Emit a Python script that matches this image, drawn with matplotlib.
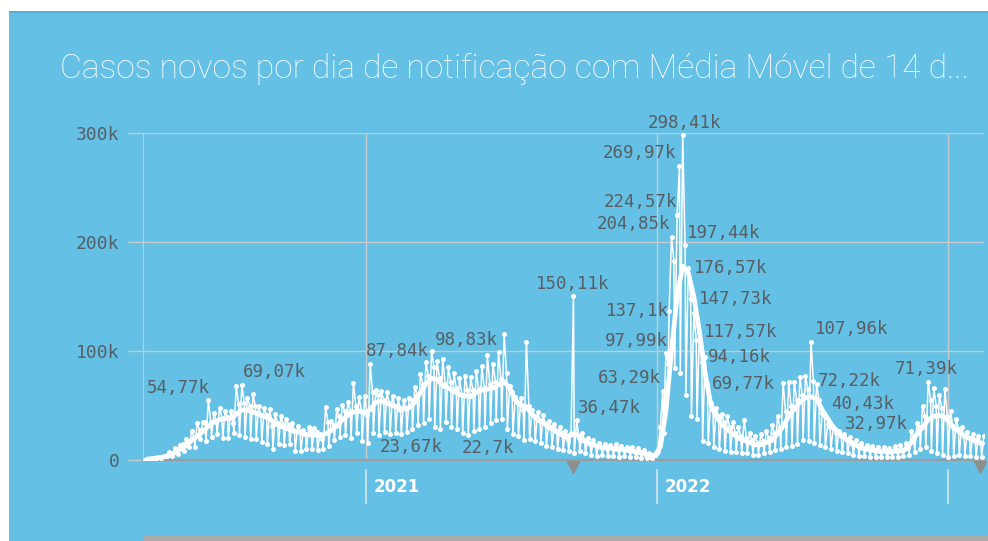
import matplotlib
matplotlib.use("Agg")
import matplotlib.pyplot as plt
import matplotlib.dates as mdates
from matplotlib.patches import Rectangle
import numpy as np
import pandas as pd

# semanas (domingo a sabado) a partir de 29/03/2020, valores em milhares de casos
inicio = '2020-03-29'
# domingo (vale), quarta (pico) e sabado de cada semana
dom = [0.4, 0.9, 1.2, 1.9, 4.0, 4.1, 5.6, 7.9, 11.7, 12.2,
       18.9, 17.1, 21.4, 24.1, 20.2, 20.3, 24.6, 23.0, 21.0, 19.0,
       19.4, 16.2, 14.3, 10.3, 14.8, 13.4, 14.3, 8.4, 8.4, 10.2,
       10.1, 8.9, 10.5, 13.3, 18.6, 21.1, 23.3, 20.0, 25.0, 17.0,
       15.8, 25.0, 23.0, 26.0, 24.0, 25.0, 23.67, 26.0, 28.0, 32.0,
       34.0, 38.0, 30.0, 28.0, 35.0, 30.0, 28.0, 25.0, 22.7, 27.0,
       28.0, 30.0, 34.0, 37.0, 38.0, 28.0, 24.0, 22.0, 18.0, 19.0,
       17.0, 16.0, 13.0, 12.0, 10.0, 9.0, 8.0, 6.0, 8.0, 6.0,
       5.0, 4.0, 5.0, 4.0, 4.0, 3.0, 4.0, 3.0, 3.0, 2.0,
       2.0, 2.0, 8.0, 25.0, 137.1, 84.0, 80.0, 60.0, 40.0, 38.0,
       17.0, 16.0, 12.0, 10.0, 8.0, 7.0, 7.0, 6.0, 6.0, 5.0,
       5.0, 6.0, 7.0, 9.0, 10.0, 12.0, 13.0, 15.0, 18.0, 17.0,
       16.0, 14.0, 12.0, 10.0, 8.0, 7.0, 6.0, 5.0, 4.0, 4.0,
       3.0, 3.0, 3.0, 3.0, 3.0, 3.0, 4.0, 5.0, 7.0, 10.0,
       12.0, 8.0, 6.0, 5.0, 3.0, 4.0, 5.0, 4.0, 4.0, 3.0,
       3.0]
qua = [1.2, 2.2, 3.1, 3.7, 7.2, 11.0, 13.9, 19.0, 26.9, 33.5,
       35.0, 54.77, 42.7, 48.1, 45.3, 45.4, 67.9, 69.07, 57.2, 60.1,
       49.3, 47.8, 47.1, 42.0, 40.0, 38.0, 34.0, 31.6, 27.2, 30.0,
       29.8, 24.1, 49.0, 35.9, 47.0, 50.9, 53.3, 70.6, 58.0, 58.7,
       87.84, 64.0, 63.0, 62.0, 59.0, 57.0, 55.0, 57.0, 67.0, 79.0,
       90.0, 100.2, 91.0, 93.0, 85.0, 80.0, 75.0, 77.0, 76.0, 82.0,
       86.0, 96.0, 88.0, 98.83, 115.6, 68.0, 58.0, 57.0, 108.0, 46.0,
       44.0, 41.0, 36.0, 33.0, 30.0, 27.0, 25.0, 36.47, 25.0, 20.0,
       18.0, 16.0, 15.0, 14.0, 15.0, 13.0, 12.0, 12.0, 11.0, 9.0,
       6.0, 5.0, 30.0, 97.99, 204.85, 224.57, 298.41, 176.57, 135.0, 117.57,
       94.16, 52.0, 48.0, 42.0, 40.0, 35.0, 30.0, 37.0, 25.0, 22.0,
       24.0, 27.0, 32.0, 40.0, 71.0, 71.5, 72.0, 76.0, 77.0, 107.96,
       70.0, 43.0, 32.97, 30.0, 27.0, 24.0, 21.0, 18.0, 16.0, 14.0,
       13.0, 12.0, 12.0, 11.0, 13.0, 14.0, 16.0, 27.0, 34.0, 50.0,
       71.39, 66.0, 60.0, 65.0, 45.0, 38.0, 30.0, 26.0, 24.0, 22.0,
       22.0]
sab = [1.0, 1.2, 2.9, 3.5, 4.6, 10.2, 14.9, 16.5, 21.0, 27.1,
       34.7, 34.9, 34.7, 38.7, 39.0, 34.2, 51.1, 52.4, 49.9, 49.4,
       41.3, 41.4, 31.0, 33.5, 33.0, 31.9, 26.9, 26.9, 24.0, 26.4,
       26.0, 18.9, 35.0, 32.0, 40.0, 45.0, 45.0, 50.0, 45.0, 41.0,
       62.0, 60.0, 55.0, 52.0, 50.0, 46.0, 47.0, 55.0, 60.0, 70.0,
       77.0, 85.0, 75.0, 70.0, 72.0, 66.0, 60.0, 64.0, 64.0, 65.0,
       66.0, 70.0, 72.0, 74.0, 80.0, 62.0, 52.0, 46.0, 50.0, 40.0,
       37.0, 33.0, 30.0, 27.0, 25.0, 18.0, 150.11, 20.0, 18.0, 15.0,
       13.0, 12.0, 11.0, 11.0, 10.0, 9.0, 9.0, 8.0, 7.0, 5.0,
       4.0, 6.0, 63.29, 88.0, 183.0, 269.97, 197.44, 147.73, 110.0, 90.0,
       69.77, 46.0, 40.0, 35.0, 30.0, 25.0, 22.0, 20.0, 18.0, 16.0,
       17.0, 20.0, 25.0, 30.0, 45.0, 50.0, 55.0, 60.0, 65.0, 72.22,
       55.0, 40.43, 30.0, 25.0, 22.0, 18.0, 15.0, 13.0, 11.0, 10.0,
       9.0, 8.0, 8.0, 8.0, 9.0, 9.0, 12.0, 22.0, 30.0, 40.0,
       55.0, 50.0, 48.0, 40.0, 30.0, 28.0, 22.0, 20.0, 18.0, 16.0,
       16.0]
# media movel de 14 dias, um valor por semana (quarta-feira)
media = [0.8, 1.3, 1.9, 2.9, 4.5, 6.8, 10.0, 13.0, 18.0, 22.0,
         26.0, 31.0, 35.0, 37.0, 38.0, 38.0, 42.0, 46.0, 46.0, 44.0,
         42.0, 40.0, 38.0, 33.0, 31.0, 29.0, 27.0, 26.0, 24.0, 23.0,
         23.0, 22.0, 24.0, 27.0, 31.0, 37.0, 41.0, 44.0, 45.0, 43.0,
         46.0, 53.0, 54.0, 52.0, 50.0, 48.0, 47.0, 48.0, 53.0, 62.0,
         70.0, 75.0, 74.0, 68.0, 66.0, 63.0, 60.0, 59.0, 58.0, 62.0,
         64.0, 65.0, 66.0, 69.0, 72.0, 66.0, 55.0, 50.0, 49.0, 42.0,
         37.0, 34.0, 30.0, 27.0, 24.0, 21.0, 23.0, 24.0, 18.0, 16.0,
         14.0, 12.0, 11.0, 11.0, 10.0, 10.0, 9.0, 8.0, 7.0, 6.0,
         5.0, 4.0, 12.0, 45.0, 100.0, 150.0, 178.0, 172.0, 150.0, 118.0,
         80.0, 52.0, 40.0, 33.0, 28.0, 24.0, 20.0, 18.0, 16.0, 14.0,
         14.0, 16.0, 18.0, 24.0, 31.0, 40.0, 47.0, 53.0, 57.0, 58.0,
         56.0, 46.0, 38.0, 30.0, 25.0, 20.0, 17.0, 14.0, 11.0, 10.0,
         9.0, 8.0, 8.0, 7.0, 8.0, 8.0, 10.0, 16.0, 24.0, 30.0,
         37.0, 40.0, 41.0, 39.0, 33.0, 28.0, 24.0, 21.0, 18.0, 16.0,
         15.0]

# valores rotulados no grafico e deslocamento do rotulo (pixels)
rotulos = [54.77, 69.07, 87.84, 98.83, 23.67, 22.7, 150.11, 36.47,
           298.41, 269.97, 224.57, 204.85, 197.44, 176.57, 147.73, 137.1,
           117.57, 97.99, 94.16, 63.29, 69.77, 107.96, 72.22, 40.43,
           32.97, 71.39]
desloc = [(-30, 12), (33, 13), (27, 13), (-32, 12), (10, -13), (20, -13), (-1, 12), (33, 12),
          (2, 12), (-40, 13), (-37, 13), (-38, 13), (39, 12), (42, 0), (45, 0), (-32, 0),
          (41, 0), (-30, 12), (34, 0), (-33, 13), (36, 0), (41, 13), (36, 0), (38, 12),
          (49, 0), (-2, 13)]

marcos = ['2021-09-18', '2023-02-10']
anos = ['2021-01-01', '2022-01-01', '2023-01-01']
anos_txt = ['2021', '2022', '']
yticks = [0, 100, 200, 300]
titulo = 'Casos novos por dia de notificação com Média Móvel de 14 d...'

azul = '#64c0e4'
grade = '#c5cbce'
cinza = '#575e64'

semanas = pd.date_range(inicio, periods=len(dom), freq='7D')
d3 = pd.Timedelta(days=3)
d6 = pd.Timedelta(days=6)
datas = np.column_stack([mdates.date2num(semanas), mdates.date2num(semanas + d3),
                         mdates.date2num(semanas + d6)]).ravel()
casos = np.column_stack([dom, qua, sab]).ravel()

fig = plt.figure(figsize=(9.88, 5.41), dpi=100, facecolor='white')
fig.patches.append(Rectangle((9/988, 0), 979/988, 530/541, transform=fig.transFigure,
                             facecolor=azul, edgecolor='none', zorder=-2))
fig.patches.append(Rectangle((9/988, 528/541), 979/988, 2/541, transform=fig.transFigure,
                             facecolor='#52b0d8', edgecolor='none', zorder=-1))
fig.patches.append(Rectangle((143/988, 0), 845/988, 6/541, transform=fig.transFigure,
                             facecolor='#ababab', edgecolor='none', zorder=-1))

ax = fig.add_axes([143/988, 81/541, 841/988, 327/541])
ax.set_facecolor('none')
ax.set_xlim(mdates.datestr2num('2020-03-27'), mdates.datestr2num('2023-02-15'))
ax.set_ylim(0, 300)

for s in ['top', 'right']:
    ax.spines[s].set_visible(False)
ax.spines['left'].set_color(grade)
ax.spines['bottom'].set_color('#9c9c9c')
ax.spines['bottom'].set_linewidth(1.6)

ax.set_axisbelow(True)
ax.yaxis.grid(True, color=grade, lw=1)
ax.set_yticks(yticks)
ax.set_yticklabels([('%dk' % t) if t else '0' for t in yticks],
                   fontfamily='DejaVu Sans Mono', fontsize=13, color=cinza)
ax.tick_params(axis='y', length=11, width=1, color=grade, pad=6)
ax.set_xticks([])

trans = ax.get_xaxis_transform()
for a, t in zip(anos, anos_txt):
    d = mdates.datestr2num(a)
    ax.axvline(d, color=grade, lw=1, zorder=1)
    ax.plot([d, d], [-0.031, -0.131], transform=trans, clip_on=False, color='#d5e6ec', lw=1.2)
    if t:
        ax.annotate(t, (d, -0.083), xycoords=trans, xytext=(7, 0), textcoords='offset pixels',
                    ha='left', va='center', color='white', fontsize=12, fontweight='bold')

ax.plot([mdates.datestr2num(m) for m in marcos], [-0.02] * len(marcos), transform=trans,
        ls='none', marker='v', ms=9, color='#8e8e8e', clip_on=False)

ax.plot(datas, casos, color='white', lw=1.1, marker='o', ms=3.6, mew=0, zorder=3)
ax.plot(mdates.date2num(semanas + d3), media, color='white', lw=3.4, zorder=4,
        solid_capstyle='round')

for v, (dx, dy) in zip(rotulos, desloc):
    i = np.where(np.isclose(casos, v))[0][0]
    txt = ('%.2f' % v).rstrip('0').rstrip('.').replace('.', ',') + 'k'
    ax.annotate(txt, (datas[i], casos[i]), xytext=(dx, dy), textcoords='offset pixels',
                ha='center', va='center', fontfamily='DejaVu Sans Mono', fontsize=12.5,
                color=cinza, zorder=5, annotation_clip=False)

fig.text(60/988, 1 - 78/541, titulo, color='white', fontsize=24.2, va='baseline',
         family=['Roboto', 'DejaVu Sans'], fontweight='light')

plt.savefig('out.png', dpi=100, facecolor='white')
